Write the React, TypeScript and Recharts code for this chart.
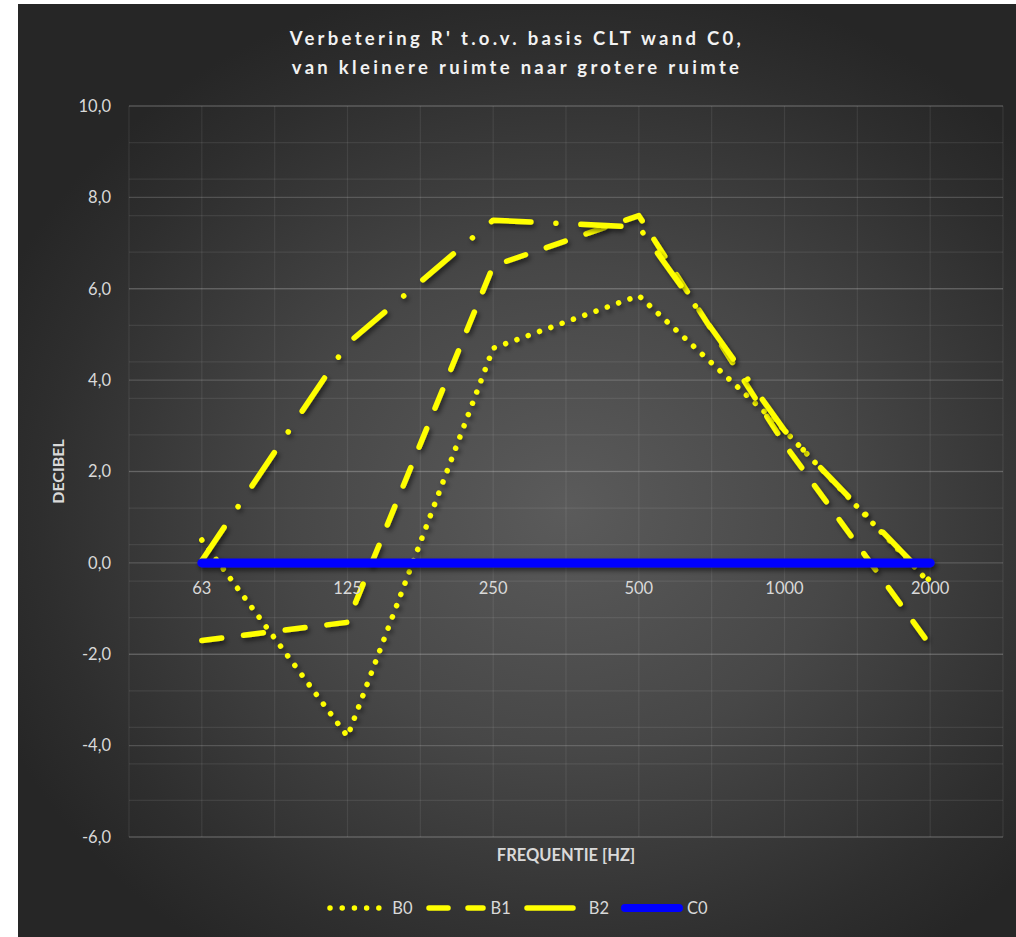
import { CartesianGrid, Legend, Line, LineChart, XAxis, YAxis } from 'recharts';

const frequencies = ['63', '125', '250', '500', '1000', '2000'];
const b0 = [0.5, -3.8, 4.7, 5.85, 2.9, -0.45];
const b1 = [-1.7, -1.3, 6.5, 7.6, 2.6, -1.8];
const b2 = [0.05, 4.8, 7.5, 7.35, 2.9, -0.4];
const c0 = [0, 0, 0, 0, 0, 0];
const yTicks = [-6, -4, -2, 0, 2, 4, 6, 8, 10];

const data = frequencies.map((f, i) => ({
    idx: i,
    freq: f,
    B0: b0[i],
    B1: b1[i],
    B2: b2[i],
    C0: c0[i],
}));

const series = [
    { key: 'B0', color: '#ffff00', width: 5.5, dash: '0.01 12', legendDash: '0.01 12.2' },
    { key: 'B1', color: '#ffff00', width: 5.5, dash: '20 22', legendDash: '19 20' },
    { key: 'B2', color: '#ffff00', width: 5.5, dash: '40 25 0.01 25', legendDash: '46 40' },
    { key: 'C0', color: '#0000ff', width: 9, dash: undefined, legendDash: undefined },
];

const Y_MIN = -6;
const Y_MAX = 10;
const W = 998;
const H = 933;
const X_AXIS_H = 40;
const Y_AXIS_W = 60;
const MARGIN = { top: 102, right: 13, left: 51, bottom: 60 };
const PLOT_H = H - MARGIN.top - MARGIN.bottom - X_AXIS_H;
const ZERO_Y = MARGIN.top + (Y_MAX / (Y_MAX - Y_MIN)) * PLOT_H;

const FONT = 'Lato, "Open Sans", sans-serif';
const TEXT = '#d9d9d9';

const minorY: number[] = [];
for (let v = Y_MIN; v <= Y_MAX + 1e-9; v += 0.4) minorY.push(+v.toFixed(1));
const gridX: number[] = [];
for (let v = -0.5; v <= 5.5 + 1e-9; v += 0.5) gridX.push(v);

const fmt = (v: number) => v.toFixed(1).replace('.', ',');

// x labels sit just under the zero line, like Excel's crossing axis
function FreqTick({ x, payload }: any) {
    return (
        <text x={x} y={ZERO_Y + 31} textAnchor="middle" fill={TEXT} fontSize={16.5} fontFamily={FONT}>
            {frequencies[payload.value]}
        </text>
    );
}

function LegendRow() {
    return (
        <div style={{ display: 'flex', justifyContent: 'center', alignItems: 'center', gap: 12, fontFamily: FONT, fontSize: 16.5, color: TEXT }}>
            {series.map((s) => (
                <div key={s.key} style={{ display: 'flex', alignItems: 'center', gap: 4 }}>
                    <svg width={62} height={12}>
                        <line x1={4} y1={6} x2={58} y2={6} stroke={s.color} strokeWidth={s.key === 'C0' ? 8 : 5.5}
                            strokeDasharray={s.legendDash} strokeLinecap="round" />
                    </svg>
                    <span>{s.key}</span>
                </div>
            ))}
        </div>
    );
}

export default function App() {
    return (
        <div
            style={{
                position: 'absolute',
                left: 18,
                top: 4,
                width: W,
                height: H,
                background: 'radial-gradient(ellipse 62% 58% at 55% 54%, #5b5b5b 0%, #474747 45%, #2e2e2e 85%, #262626 100%)',
            }}
        >
            <div
                style={{
                    position: 'absolute',
                    top: 20,
                    left: 0,
                    width: W,
                    textAlign: 'center',
                    fontFamily: FONT,
                    fontWeight: 700,
                    fontSize: 18.5,
                    lineHeight: '29px',
                    letterSpacing: 3.3,
                    color: '#f2f2f2',
                }}
            >
                Verbetering R' t.o.v. basis CLT wand C0,
                <br />
                van kleinere ruimte naar grotere ruimte
            </div>
            <LineChart width={W} height={H} data={data} margin={MARGIN}>
                <defs>
                    <filter id="lineShadow" filterUnits="userSpaceOnUse" x={0} y={0} width={W} height={H}>
                        <feDropShadow dx="2" dy="3" stdDeviation="2.5" floodColor="#000" floodOpacity="0.55" />
                    </filter>
                </defs>
                <CartesianGrid
                    horizontalValues={minorY}
                    verticalValues={gridX}
                    stroke="rgba(255,255,255,0.08)"
                    strokeWidth={1.2}
                />
                <CartesianGrid
                    horizontalValues={yTicks}
                    vertical={false}
                    stroke="rgba(255,255,255,0.17)"
                    strokeWidth={1.4}
                />
                <XAxis
                    type="number"
                    dataKey="idx"
                    domain={[-0.5, 5.5]}
                    ticks={[0, 1, 2, 3, 4, 5]}
                    height={X_AXIS_H}
                    axisLine={false}
                    tickLine={false}
                    tick={<FreqTick />}
                    label={{
                        value: 'FREQUENTIE [HZ]',
                        position: 'insideTop',
                        offset: 12,
                        fill: TEXT,
                        fontSize: 16.5,
                        fontWeight: 700,
                        fontFamily: FONT,
                    }}
                />
                <YAxis
                    type="number"
                    domain={[Y_MIN, Y_MAX]}
                    ticks={yTicks}
                    width={Y_AXIS_W}
                    axisLine={false}
                    tickLine={false}
                    tickSize={0}
                    tickMargin={18}
                    tickFormatter={fmt}
                    tick={{ fill: TEXT, fontSize: 16.5, fontFamily: FONT }}
                    label={{
                        value: 'DECIBEL',
                        angle: -90,
                        position: 'insideLeft',
                        offset: -11,
                        fill: TEXT,
                        fontSize: 16,
                        fontWeight: 700,
                        fontFamily: FONT,
                        style: { textAnchor: 'middle' },
                    }}
                />
                <Legend
                    verticalAlign="middle"
                    layout="horizontal"
                    wrapperStyle={{ top: 894, left: 0, width: W }}
                    content={<LegendRow />}
                />
                {series.map((s) => (
                    <Line
                        key={s.key}
                        type="linear"
                        dataKey={s.key}
                        name={s.key}
                        stroke={s.color}
                        strokeWidth={s.width}
                        strokeDasharray={s.dash}
                        strokeLinecap="round"
                        strokeLinejoin="round"
                        filter="url(#lineShadow)"
                        dot={false}
                        activeDot={false}
                        isAnimationActive={false}
                    />
                ))}
            </LineChart>
        </div>
    );
}
